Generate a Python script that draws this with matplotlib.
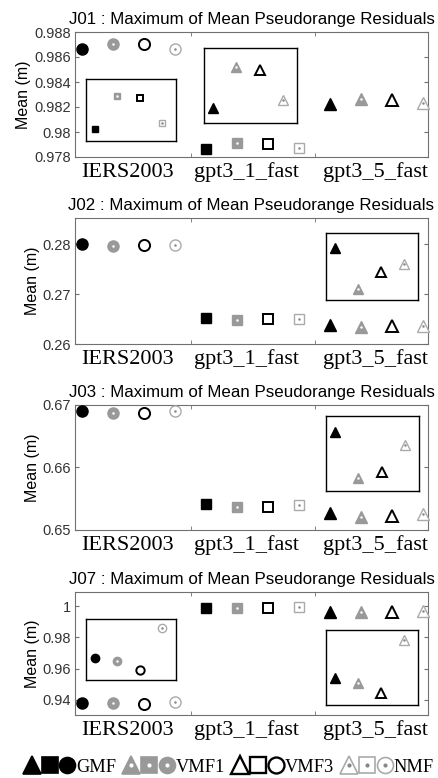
import matplotlib
matplotlib.use('Agg')
import matplotlib.pyplot as plt
from matplotlib.lines import Line2D
from matplotlib.legend_handler import HandlerTuple

# categories and mapping functions
groups = ['IERS2003', 'gpt3_1_fast', 'gpt3_5_fast']
models = ['GMF', 'VMF1', 'VMF3', 'NMF']
stations = ['J01', 'J02', 'J03', 'J07']

# maximum of mean pseudorange residuals (m), one value per group
j01_gmf = [0.98662, 0.97866, 0.98224]
j01_vmf1 = [0.98702, 0.97909, 0.98262]
j01_vmf3 = [0.98702, 0.97906, 0.98259]
j01_nmf = [0.98667, 0.97873, 0.98231]

j02_gmf = [0.27993, 0.26513, 0.26380]
j02_vmf1 = [0.27967, 0.26480, 0.26347]
j02_vmf3 = [0.27980, 0.26493, 0.26361]
j02_nmf = [0.27980, 0.26500, 0.26367]

j03_gmf = [0.66908, 0.65415, 0.65269]
j03_vmf1 = [0.66866, 0.65366, 0.65215]
j03_vmf3 = [0.66866, 0.65366, 0.65221]
j03_nmf = [0.66898, 0.65398, 0.65253]

j07_gmf = [0.93789, 0.99892, 0.99638]
j07_vmf1 = [0.93780, 0.99892, 0.99631]
j07_vmf3 = [0.93748, 0.99892, 0.99615]
j07_nmf = [0.93894, 0.99955, 0.99700]

data = {
    'J01': [j01_gmf, j01_vmf1, j01_vmf3, j01_nmf],
    'J02': [j02_gmf, j02_vmf1, j02_vmf3, j02_nmf],
    'J03': [j03_gmf, j03_vmf1, j03_vmf3, j03_nmf],
    'J07': [j07_gmf, j07_vmf1, j07_vmf3, j07_nmf],
}

ylims = {'J01': (0.978, 0.988), 'J02': (0.26, 0.2852), 'J03': (0.65, 0.67), 'J07': (0.9304, 1.009)}
yticks = {'J01': [0.978, 0.98, 0.982, 0.984, 0.986, 0.988],
          'J02': [0.26, 0.27, 0.28],
          'J03': [0.65, 0.66, 0.67],
          'J07': [0.94, 0.96, 0.98, 1.0]}
ytick_labels = {'J01': ['0.978', '0.98', '0.982', '0.984', '0.986', '0.988'],
                'J02': ['0.26', '0.27', '0.28'],
                'J03': ['0.65', '0.66', '0.67'],
                'J07': ['0.94', '0.96', '0.98', '1']}

# zoom boxes: (group index, [x0, y0, w, h] in axes fraction, inset ylim)
insets = {
    'J01': [(1, [0.031, 0.128, 0.255, 0.496], (0.97850, 0.97931)),
            (2, [0.365, 0.274, 0.263, 0.600], (0.98210, 0.98280))],
    'J02': [(2, [0.710, 0.349, 0.262, 0.529], (0.26338, 0.26392))],
    'J03': [(2, [0.710, 0.312, 0.264, 0.600], (0.65199, 0.65288))],
    'J07': [(0, [0.031, 0.285, 0.254, 0.493], (0.93713, 0.93926)),
            (2, [0.710, 0.081, 0.262, 0.610], (0.99595, 0.99716))],
}

shapes = ['o', 's', '^']
main_size = {'o': 8, 's': 6.5, '^': 9}
inset_size = {'o': 6, 's': 5, '^': 6.5}

# model styles: face, edge, edge width, centre dot colour
styles = {
    'GMF': ('black', 'black', 1.0, None),
    'VMF1': ('#999999', '#999999', 1.0, 'white'),
    'VMF3': ('white', 'black', 1.4, None),
    'NMF': ('white', '#aaaaaa', 1.0, '#888888'),
}

sans = 'Liberation Sans'
serif = 'Liberation Serif'
frame_col = '#707070'


def draw_marker(ax, x, y, shape, model, size):
    face, edge, lw, dot = styles[model]
    ax.plot(x, y, marker=shape, ms=size, mfc=face, mec=edge, mew=lw,
            ls='none', clip_on=False, zorder=3)
    if dot is not None:
        ax.plot(x, y, marker='o', ms=1.8, mfc=dot, mec=dot, mew=0,
                ls='none', clip_on=False, zorder=4)


fig = plt.figure(figsize=(4.39, 7.78), dpi=100)

left, width = 75 / 439, 353 / 439
tops = [32, 218, 405, 592]
bottoms = [157, 344, 530, 715]

for st, top, bot in zip(stations, tops, bottoms):
    ax = fig.add_axes([left, 1 - bot / 778, width, (bot - top) / 778])
    vals = data[st]
    for m, model in enumerate(models):
        for g in range(3):
            draw_marker(ax, 4 * g + m + 1, vals[m][g], shapes[g], model, main_size[shapes[g]])

    ax.set_xlim(0.77, 12.16)
    ax.set_ylim(*ylims[st])
    ax.set_yticks(yticks[st])
    ax.set_yticklabels(ytick_labels[st], fontfamily=sans, fontsize=10.5, color='#333333')
    ax.set_xticks([2.45, 6.3, 10.45])
    ax.set_xticklabels(groups, fontfamily=serif, fontsize=16)
    ax.set_xticks([4.5, 8.5], minor=True)
    ax.tick_params(axis='x', which='major', length=0, pad=4)
    ax.tick_params(axis='x', which='minor', direction='in', length=3, top=True,
                   color=frame_col)
    ax.tick_params(axis='y', direction='in', length=3, right=True, color=frame_col, pad=3)
    for sp in ax.spines.values():
        sp.set_color(frame_col)
        sp.set_linewidth(0.8)
    ax.set_ylabel('Mean (m)', fontfamily=sans, fontsize=11.5, labelpad=2)
    ax.set_title(st + ' : Maximum of Mean Pseudorange Residuals',
                 fontfamily=sans, fontsize=12.2, pad=6)

    for g, bounds, ylim in insets[st]:
        iax = ax.inset_axes(bounds)
        iax.set_facecolor('none')
        for m, model in enumerate(models):
            draw_marker(iax, m + 1, vals[m][g], shapes[g], model, inset_size[shapes[g]])
        iax.set_xlim(0.6, 4.6)
        iax.set_ylim(*ylim)
        iax.set_xticks([])
        iax.set_yticks([])
        for sp in iax.spines.values():
            sp.set_color('black')
            sp.set_linewidth(1.0)

# legend built from the same marker styles
leg_size = {'^': 13, 's': 11, 'o': 11.5}
handles = []
for model in models:
    face, edge, lw, dot = styles[model]
    parts = []
    for shape in ['^', 's', 'o']:
        mk = Line2D([], [], marker=shape, ms=leg_size[shape], mfc=face, mec=edge,
                    mew=lw * 1.2, ls='none')
        if dot is not None:
            d = Line2D([], [], marker='o', ms=3, mfc=dot, mec=dot, mew=0, ls='none')
            parts.append((mk, d))
        else:
            parts.append(mk)
    handles.append(tuple(parts))

hmap = {h: HandlerTuple(ndivide=None, pad=0.0) for h in handles}
fig.legend(handles, models, handler_map=hmap, loc='center',
           bbox_to_anchor=(0.52, 1 - 767 / 778), ncol=4, frameon=False,
           handlelength=2.9, handletextpad=0.0, columnspacing=0.35,
           prop={'family': serif, 'size': 13.2}, borderaxespad=0, borderpad=0)

fig.savefig('out.png', dpi=100)
